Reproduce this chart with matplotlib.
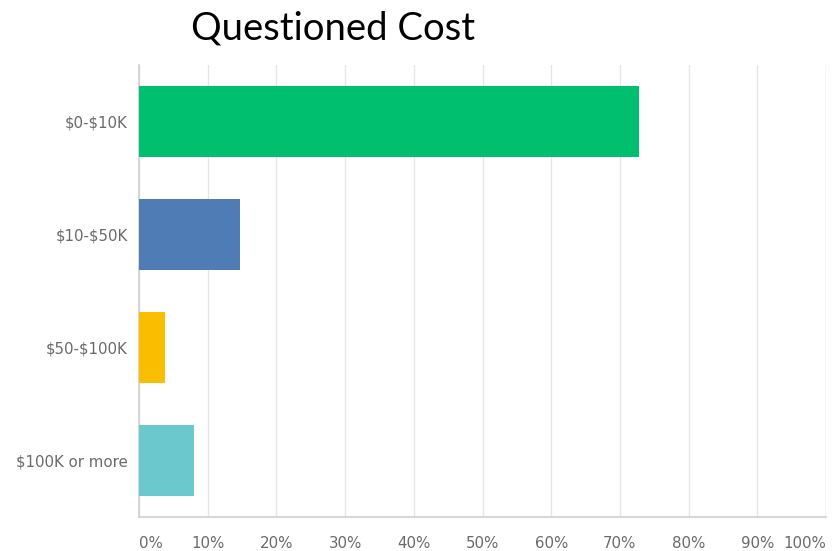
import matplotlib.pyplot as plt

plt.rcParams["text.parse_math"] = False

# Survey responses, share of answers (%)
categories = ["$0-$10K", "$10-$50K", "$50-$100K", "$100K or more"]
shares = [72.8, 14.7, 3.8, 8.0]
bar_colors = ["#00BF6F", "#507CB6", "#F9BE00", "#6BC8CD"]
x_ticks = [0, 10, 20, 30, 40, 50, 60, 70, 80, 90, 100]
x_tick_labels = [f"{t}%" for t in x_ticks]

fig = plt.figure(figsize=(8.38, 5.51), dpi=100)
ax = fig.add_axes([0.1659, 0.0617, 0.8198, 0.8203])

y = list(range(len(categories)))
ax.barh(y, shares, height=0.62, color=bar_colors, zorder=3)

ax.set_xlim(0, 100)
ax.set_ylim(len(categories) - 0.5, -0.5)

label_font = dict(fontsize=10.8, color="#6a6a6a", family="DejaVu Sans")
ax.set_yticks(y)
ax.set_yticklabels(categories, **label_font)
ax.set_xticks(x_ticks)
ax.set_xticklabels(x_tick_labels, **label_font)
ax.tick_params(axis="both", length=0)
ax.tick_params(axis="x", pad=14)
ax.tick_params(axis="y", pad=8)

# first and last x labels sit inside the plot width
xlabels = ax.get_xticklabels()
xlabels[0].set_horizontalalignment("left")
xlabels[-1].set_horizontalalignment("right")

ax.grid(axis="x", color="#e6e6e6", linewidth=1, zorder=0)
ax.grid(axis="y", visible=False)
for side in ["top", "right"]:
    ax.spines[side].set_visible(False)
for side in ["left", "bottom"]:
    ax.spines[side].set_color("#cfcfcf")
    ax.spines[side].set_linewidth(1.2)
ax.axvline(100, color="#e6e6e6", linewidth=1, zorder=0)

fig.text(0.397, 0.949, "Questioned Cost", fontsize=27.5, family="Lato",
         ha="center", va="center", color="black")

fig.savefig("out.png", dpi=100)
